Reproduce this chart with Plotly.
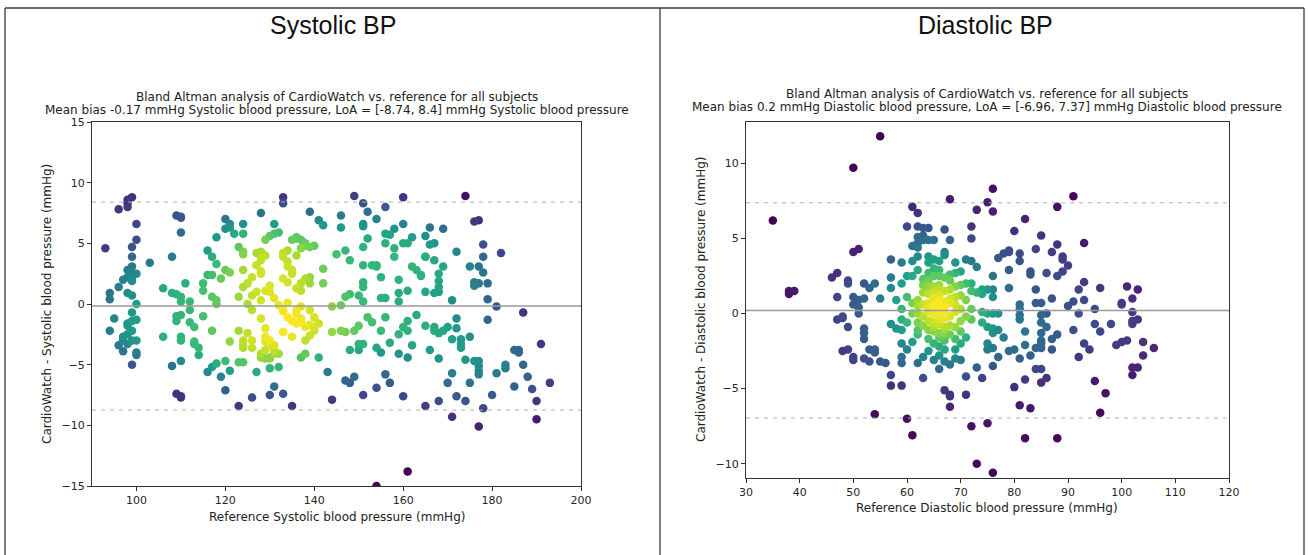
import numpy as np
import plotly.graph_objects as go

W, H = 1309, 555

# ---------------- data ----------------
sys_ref = [93, 94, 94, 94, 95, 96, 96, 96, 97, 97, 97, 98, 98, 98, 99, 100, 100, 99, 99, 99,
           98, 99, 100, 98, 99, 99, 98, 99, 100, 99, 99, 100, 98, 98, 99, 98, 100, 99, 100, 100,
           99, 98, 97, 103, 106, 106, 108, 108, 109, 110, 110, 110, 109, 110, 110, 110, 108, 109, 110, 110,
           109, 109, 110, 110, 110, 111, 112, 112, 112, 113, 113, 113, 114, 114, 115, 116, 117, 118, 117, 116,
           115, 115, 117, 118, 118, 117, 116, 117, 118, 119, 120, 118, 119, 120, 121, 120, 121, 120, 122, 121,
           120, 121, 121, 123, 124, 123, 124, 124, 124, 125, 124, 126, 123, 124, 124, 124, 125, 126, 126, 124,
           124, 123, 126, 126, 126, 127, 127, 128, 128, 127, 128, 129, 130, 131, 129, 130, 130, 131, 129, 129,
           130, 130, 131, 131, 130, 129, 128, 128, 127, 128, 130, 132, 131, 130, 131, 132, 133, 133, 133, 134,
           135, 136, 134, 135, 133, 134, 133, 134, 135, 133, 135, 132, 135, 133, 137, 137, 136, 136, 137, 136,
           137, 138, 138, 139, 138, 137, 139, 139, 140, 140, 142, 141, 142, 140, 139, 141, 142, 143,
           133, 136, 138, 139, 140, 141, 137, 129, 131, 129, 128, 130, 133, 132,
           128, 128, 125, 123, 128, 133, 134, 135, 138, 139, 137, 136, 138, 139, 137, 134, 136, 129,
           149, 151, 152, 154, 156, 160, 174, 146, 146, 151, 151, 158, 160, 162, 166, 169, 176, 177, 152, 151,
           156, 157, 156, 158, 158, 160, 161, 165, 166, 167, 165, 165, 167, 172, 178, 178, 182, 145, 147, 148,
           153, 154, 155, 154, 151, 151, 151, 159, 162, 163, 164, 164, 169, 168, 168, 168, 165, 168, 175, 177,
           178, 176, 176, 177, 179, 179, 171, 144, 146, 147, 148, 150, 151, 155, 156, 159, 159, 161, 167, 181,
           187, 179, 144, 146, 147, 149, 150, 152, 153, 155, 156, 159, 160, 161, 161, 163, 165, 167, 167, 168,
           169, 170, 172, 172, 171, 173, 173, 173, 175, 148, 150, 150, 151, 154, 155, 157, 159, 161, 162, 166,
           168, 174, 176, 177, 177, 177, 181, 183, 183, 185, 186, 186, 187, 191, 147, 148, 149, 154, 156, 157,
           170, 171, 175, 177, 185, 188, 189, 193, 144, 151, 160, 165, 168, 172, 174, 178, 180, 190, 171, 177,
           190, 161, 154]
sys_diff = [4.6, 0.9, 0.4, -2.2, -1.2, 7.8, 1.4, -3.4, -3.9, -2.7, 2.0, 8.6, 8.3, 8.0, 8.8, 6.6, 5.3, 4.7, 3.9, 3.1,
            2.8, 2.6, 2.5, 2.2, 1.9, 2.2, 0.9, 0.7, 0.0, -0.7, -1.4, -1.3, -1.6, -1.8, -2.2, -2.5, -3.0, -3.0, -4.0, -4.2,
            -5.0, -3.3, -3.0, 3.4, 1.3, -2.7, 3.9, -5.1, 7.3, 7.2, 7.1, 5.9, -7.4, -7.6, -7.7, -4.7, 0.9, 0.8, 0.6, 0.2,
            -1.4, -1.0, -0.9, -2.7, -3.0, 1.7, 0.2, -0.5, -1.5, -1.9, -3.1, -3.3, -4.2, -3.6, -1.0, 4.4, 3.9, 3.3, 2.4, 2.4,
            1.7, 1.1, 0.6, 0.3, 0.0, -2.2, -5.6, -5.2, -4.9, -6.0, -7.1, 5.5, 2.1, 2.8, 2.6, 7.0, 6.6, 6.2, 5.8, 6.3,
            -4.7, -3.1, -5.5, -4.8, -4.8, 4.7, 4.3, 4.1, 2.8, 1.7, 1.4, 2.2, -2.2, -3.0, -3.4, -3.6, -2.4, -3.0, -3.6, 6.6,
            5.8, -8.4, -7.7, 0.7, -0.5, 1.0, 4.2, 4.3, 3.9, 3.2, 2.5, 5.3, 5.6, 5.8, 1.1, 1.5, 1.0, 0.5, -2.0, -2.7,
            -3.0, -3.4, -3.8, -4.1, -4.4, -4.5, -4.4, -1.2, -5.6, 7.5, -5.3, -5.2, -6.8, -7.5, 6.6, 5.9, 8.8, 8.3, 4.2, 4.4,
            5.3, 5.4, 3.1, 2.8, 2.1, 0.1, -0.5, -1.1, -1.4, -2.3, -2.7, -4.1, -8.4, -7.4, 5.3, 1.7, 1.3, -0.5, -1.2, -1.6,
            -0.2, 4.8, -3.0, -2.6, -4.1, -4.4, 7.6, 2.2, -1.9, -1.1, 1.7, -4.4, 2.9, 4.8, -0.5, 6.9, 6.5, -5.6,
            -0.6, -0.8, -1.9, -1.7, -2.2, -1.6, -1.5, -3.1, -3.4, -3.8, -4.1, -4.5, -2.3, -0.1,
            3.6, 2.7, 0.0, 0.6, 0.3, 3.9, 3.5, 2.5, 5.0, 4.7, 4.6, 4.0, 2.1, 1.7, 1.1, 1.8, 5.5, 4.0,
            8.9, 8.3, 7.6, 7.0, 8.0, 8.8, 8.9, 7.3, 6.3, 6.4, 6.6, 6.2, 6.6, 5.5, 6.3, 6.2, 6.8, 6.9, 5.4, 4.7,
            5.8, 5.7, 5.0, 4.6, 3.9, 5.0, 5.0, 5.6, 4.9, 5.0, 3.9, 3.9, 3.6, 4.3, 4.9, 3.9, 4.2, 4.1, 4.4, 3.6,
            3.2, 3.2, 2.2, 3.1, 3.2, 1.8, 1.4, 2.0, 3.1, 2.8, 2.3, 2.4, 3.1, 2.5, 1.9, 1.4, 1.0, 1.0, 3.1, 3.1,
            2.6, 1.8, 1.5, 1.7, 1.7, 0.4, 0.3, -0.2, -0.1, 0.6, 0.8, 0.7, 0.2, 0.5, 0.5, 0.9, 0.2, 1.1, 0.9, -0.2,
            -0.7, -1.3, -2.3, -2.2, -2.3, -2.2, -1.8, -1.1, -1.5, -2.2, -1.1, -2.5, -1.9, -1.4, -2.2, -0.9, -1.8, -1.9, -2.2, -2.4,
            -2.2, -1.9, -2.0, -1.2, -2.9, -2.9, -3.3, -3.6, -2.7, -3.8, -3.3, -3.8, -3.3, -3.6, -4.0, -3.2, -4.1, -4.4, -3.4, -3.8,
            -4.5, -4.6, -4.7, -4.7, -5.1, -5.5, -5.7, -5.3, -5.0, -3.8, -3.8, -4.0, -5.0, -3.3, -6.3, -6.5, -6.0, -6.9, -5.8, -6.5,
            -6.5, -5.7, -6.5, -5.8, -6.8, -6.0, -7.0, -6.5, -7.9, -7.5, -7.6, -8.4, -8.0, -7.6, -8.0, -8.6, -7.5, -8.0, -9.3, -10.1,
            -9.5, -13.8, -15.0]

dia_ref = [55, 50, 35, 38, 38, 39, 68, 61, 62, 50, 51, 46, 47, 49, 49, 47, 52, 54, 53, 50,
           51, 50, 51, 51, 52, 55, 47, 48, 48, 49, 52, 52, 52, 48, 49, 50, 50, 52, 53, 53,
           54, 54, 55, 56, 57, 58, 57, 57, 57, 58, 59, 59, 59, 59, 59, 59, 59, 59, 57, 57,
           59, 54, 60, 61, 60, 62, 63, 64, 65, 64, 63, 62, 63, 61, 62, 62, 62, 61, 60, 61,
           62, 60, 60, 61, 61, 62, 62, 62, 62, 62, 62, 61, 60, 62, 63, 64, 64, 65, 66, 66,
           64, 65, 66, 67, 63, 64, 65, 66, 63, 64, 65, 66, 66, 64, 65, 66, 67, 64, 65, 65,
           66, 67, 64, 65, 66, 67, 64, 65, 66, 67, 67, 64, 65, 66, 67, 66, 65, 66, 67, 68,
           68, 68, 67, 68, 67, 67, 69, 69, 69, 69, 68, 69, 69, 69, 69, 70,
           65, 66, 66, 67, 67, 66, 65, 68, 68, 68, 67, 66, 65, 64, 63, 63, 68, 69, 70, 70,
           70, 71, 70, 67, 66, 68, 63, 63, 64, 65, 68, 68, 69, 68, 64, 63, 67, 70, 70, 71,
           76, 75, 76, 73, 91, 88, 82, 72, 72, 80, 85, 93, 88, 84, 87, 71, 72, 73, 77, 78,
           79, 79, 81, 81, 83, 83, 86, 88, 89, 90, 89, 89, 79, 76, 71, 72, 74, 75, 76, 72,
           73, 74, 76, 79, 84, 92, 93, 96, 101, 103, 102, 81, 81, 84, 85, 87, 90, 91, 93, 92,
           95, 100, 100, 102, 72, 74, 75, 76, 77, 71, 72, 74, 75, 76, 76, 77, 78, 81, 82, 81,
           85, 86, 85, 86, 85, 85, 85, 84, 88, 91, 95, 96, 98, 102, 103, 102, 99, 100, 101, 104,
           106, 104, 93, 94, 92, 102, 103, 102, 75, 76, 75, 77, 79, 80, 81, 83, 82, 85, 87, 87,
           70, 73, 76, 71, 74, 80, 82, 84, 85, 85, 86, 71, 81, 83, 95, 97, 96, 72, 75, 82,
           88, 73, 76]
dia_diff = [11.8, 9.7, 6.2, 1.5, 1.3, 1.5, 7.6, 7.1, 6.7, 4.1, 4.3, 2.4, 2.7, 2.2, 2.0, 1.1, 2.0, 2.0, 1.7, 1.1,
            0.9, 0.6, 0.4, 0.0, 1.0, 1.0, -0.4, -0.3, -0.2, -0.9, -1.0, -1.3, -1.7, -2.5, -2.4, -2.9, -3.1, -3.0, -3.2, -2.4,
            -2.4, -2.6, -3.2, -3.3, -0.7, -1.0, 3.6, 2.4, 1.7, 0.9, 3.4, 2.0, 0.3, -0.4, -1.1, -2.0, -2.9, -3.3, -4.1, -4.8,
            -4.8, -6.7, -7.0, -8.1, 5.8, 5.8, 5.7, 5.7, 4.9, 4.9, 4.9, 5.1, 5.2, 4.5, 4.4, 4.7, 3.8, 3.5, 2.5, 2.5,
            2.9, 1.1, -0.6, 0.7, 0.0, 0.9, 0.5, 0.0, -0.6, -1.1, -1.4, -1.9, -2.4, -3.3, -4.3, 3.8, 3.4, 3.6, 3.5, 2.9,
            2.7, 2.5, 2.5, 2.4, 1.9, 1.8, 1.8, 1.9, 1.4, 1.3, 1.1, 0.9, 0.8, 0.7, 0.6, 0.5, 0.4, 0.1, 0.0, -0.1,
            -0.2, -0.3, -0.5, -0.6, -0.7, -0.9, -1.1, -1.2, -1.3, -1.4, -1.1, -1.7, -2.0, -2.2, -2.4, -2.8, -3.1, -3.7, -5.1, -5.4,
            -5.5, -6.2, 5.6, 4.9, 4.1, 3.9, 3.4, 2.7, 1.8, 1.1, 0.7, 0.1, -0.9, -1.7, -2.4, 2.8,
            0.5, 0.3, 1.2, 0.8, 0.0, -0.4, -0.9, 1.0, -0.2, -0.8, 1.5, 1.6, 1.4, 0.4, -0.2, 0.6, 1.6, 0.6, 1.2, 0.3,
            -0.5, 0.9, 1.9, -1.8, -1.6, -1.4, -0.8, 2.3, 2.2, 3.0, 2.2, 2.6, -3.0, -3.4, -2.5, -2.9, -3.2, -1.2, -2.0, -1.6,
            8.3, 7.4, 6.8, 6.9, 7.8, 7.1, 6.3, 5.8, 5.0, 5.5, 5.2, 4.7, 4.6, 4.3, 4.1, 3.6, 3.5, 3.1, 3.7, 4.0,
            4.1, 4.2, 4.0, 3.5, 2.8, 2.6, 2.7, 2.5, 2.8, 3.2, 3.6, 3.8, 2.9, 2.5, 2.0, 2.0, 1.6, 1.6, 1.6, 1.5,
            1.4, 1.3, 1.1, 1.7, 1.6, 1.6, 2.1, 1.7, 1.8, 1.6, 1.0, 0.6, 0.3, 0.7, 0.7, 1.0, 0.5, 0.8, 0.9, 0.0,
            0.3, 0.7, 0.6, 0.1, 0.3, 0.1, 0.0, 0.0, 0.0, -0.2, -0.4, -0.6, -0.9, -1.0, -1.3, -1.1, -1.6, -0.4, -1.2, -0.1,
            -0.1, 0.0, -0.6, -0.9, -1.3, -1.8, -2.0, -2.3, -1.4, -1.1, -0.7, -1.2, -0.7, -0.5, -0.4, -0.7, -2.1, -1.9, -1.8, -1.9,
            -2.3, -2.8, -2.0, -2.4, -2.9, -3.6, -3.6, -4.1, -2.0, -2.3, -2.4, -2.9, -2.5, -2.4, -3.0, -2.8, -2.1, -2.3, -2.4, -1.7,
            -3.1, -3.6, -3.5, -4.2, -4.3, -4.9, -4.4, -3.7, -3.7, -4.6, -4.3, -5.4, -6.1, -6.3, -4.5, -5.3, -6.6, -7.5, -7.3, -8.3,
            -8.3, -10.0, -10.6]

sys_bias, sys_loa = -0.17, [-8.74, 8.4]
dia_bias, dia_loa = 0.2, [-6.96, 7.37]

sys_title = "Systolic BP"
dia_title = "Diastolic BP"
sub_line1 = "Bland Altman analysis of CardioWatch vs. reference for all subjects"
sys_line2 = "Mean bias -0.17 mmHg Systolic blood pressure, LoA = [-8.74, 8.4] mmHg Systolic blood pressure"
dia_line2 = "Mean bias 0.2 mmHg Diastolic blood pressure, LoA = [-6.96, 7.37] mmHg Diastolic blood pressure"
sys_xlabel = "Reference Systolic blood pressure (mmHg)"
sys_ylabel = "CardioWatch - Systolic blood pressure (mmHg)"
dia_xlabel = "Reference Diastolic blood pressure (mmHg)"
dia_ylabel = "CardioWatch - Diastolic blood pressure (mmHg)"

sys_xticks = [100, 120, 140, 160, 180, 200]
sys_yticks = [-15, -10, -5, 0, 5, 10, 15]
dia_xticks = [30, 40, 50, 60, 70, 80, 90, 100, 110, 120]
dia_yticks = [-10, -5, 0, 5, 10]


def density(x, y):
    d = np.vstack([np.asarray(x, float), np.asarray(y, float)])
    n = d.shape[1]
    f = n ** (-1.0 / 6.0)
    cov = np.cov(d) * f * f
    inv = np.linalg.inv(cov)
    diff = d[:, :, None] - d[:, None, :]
    q = np.einsum('ijk,il,ljk->jk', diff, inv, diff)
    return np.exp(-0.5 * q).sum(axis=1)


def px(x):
    return x / W


def py(y):
    return 1 - y / H


fig = go.Figure()

for xs, ys, xa, ya in [(sys_ref, sys_diff, 'x', 'y'), (dia_ref, dia_diff, 'x2', 'y2')]:
    z = density(xs, ys)
    order = np.argsort(z)
    xs = np.asarray(xs)[order]
    ys = np.asarray(ys)[order]
    z = z[order]
    fig.add_trace(go.Scatter(
        x=xs, y=ys, mode='markers', xaxis=xa, yaxis=ya,
        marker=dict(size=8.5, color=z, colorscale='Viridis', cmin=z.min(), cmax=z.max(),
                    line=dict(width=0), showscale=False),
        showlegend=False, hoverinfo='x+y'))

shapes = []
for xr, yr, bias, loa in [('x', 'y', sys_bias, sys_loa), ('x2', 'y2', dia_bias, dia_loa)]:
    shapes.append(dict(type='line', xref=xr + ' domain', yref=yr, x0=0, x1=1, y0=bias, y1=bias,
                       line=dict(color='#9a9a9a', width=1.5)))
    for v in loa:
        shapes.append(dict(type='line', xref=xr + ' domain', yref=yr, x0=0, x1=1, y0=v, y1=v,
                           line=dict(color='#b0b0b0', width=1, dash='4px,5px')))

# page frame
frame = dict(color='#3a3a3a', width=1.3)
shapes += [
    dict(type='line', xref='paper', yref='paper', x0=px(5), x1=px(1304), y0=py(8), y1=py(8), line=frame),
    dict(type='line', xref='paper', yref='paper', x0=px(5), x1=px(5), y0=0, y1=py(8), line=frame),
    dict(type='line', xref='paper', yref='paper', x0=px(660), x1=px(660), y0=0, y1=py(8), line=frame),
    dict(type='line', xref='paper', yref='paper', x0=px(1304), x1=px(1304), y0=0, y1=py(8), line=frame),
]

mfont = dict(family='DejaVu Sans', size=12, color='#222222')
tfont = dict(family='Liberation Sans, Arial', size=25, color='#111111')
ann = []


def add_text(text, x, y, font, angle=0):
    ann.append(dict(text=text, x=px(x), y=py(y), xref='paper', yref='paper', showarrow=False,
                    xanchor='center', yanchor='middle', font=font, textangle=angle))


add_text(sys_title, 333, 25, tfont)
add_text(dia_title, 985, 25, tfont)
add_text(sub_line1, 336.5, 97, mfont)
add_text(sys_line2, 336.5, 110.5, mfont)
add_text(sub_line1, 987.5, 93.5, mfont)
add_text(dia_line2, 987.5, 107, mfont)
add_text(sys_xlabel, 336.5, 517, mfont)
add_text(dia_xlabel, 987.5, 508, mfont)
add_text(sys_ylabel, 47, 304, mfont, -90)
add_text(dia_ylabel, 701, 300, mfont, -90)

axis_common = dict(showline=True, mirror=True, linecolor='#333333', linewidth=1, ticks='outside',
                   ticklen=4, tickwidth=1, tickcolor='#333333', showgrid=False, zeroline=False,
                   automargin=False,
                   tickfont=dict(family='DejaVu Sans', size=11, color='#262626'))

fig.update_layout(
    template='none',
    width=W, height=H, margin=dict(l=0, r=0, t=0, b=0, pad=0, autoexpand=False),
    paper_bgcolor='white', plot_bgcolor='white',
    xaxis=dict(domain=[px(92), px(581)], range=[90, 200], tickvals=sys_xticks, anchor='y', **axis_common),
    yaxis=dict(domain=[py(486), py(122)], range=[-15, 15], tickvals=sys_yticks, anchor='x', **axis_common),
    xaxis2=dict(domain=[px(746), px(1229)], range=[30, 120], tickvals=dia_xticks, anchor='y2', **axis_common),
    yaxis2=dict(domain=[py(478), py(122)], range=[-10.95, 12.75], tickvals=dia_yticks, anchor='x2', **axis_common),
    shapes=shapes, annotations=ann,
)

fig.write_html("out.html", config={'displayModeBar': False},
               post_script="document.body.style.margin='0';document.body.style.overflow='hidden';")
